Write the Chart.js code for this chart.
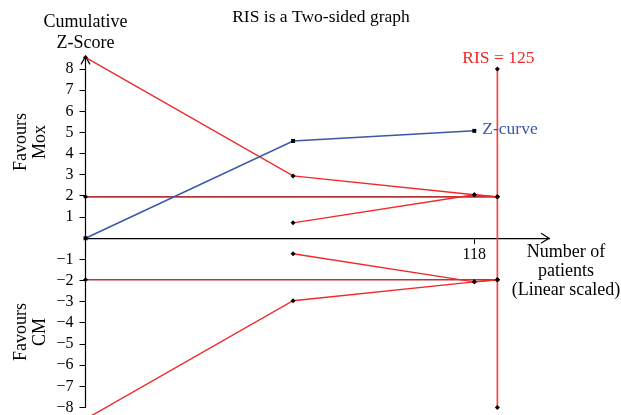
<!DOCTYPE html>
<html>
<head>
<meta charset="utf-8">
<script src="https://cdn.jsdelivr.net/npm/chart.js@4/dist/chart.umd.min.js"></script>
<style>
  html, body { margin: 0; padding: 0; background: #fff; }
  #wrap { width: 621px; height: 415px; position: relative; }
</style>
</head>
<body>
<div id="wrap"><canvas id="c" width="621" height="415"></canvas></div>
<script>
// Trial sequential analysis: cumulative Z-score against number of patients
const zPatients = [0, 63, 118];
const zCurve = [0, 4.6, 5.08];

const boundaryPatients = [0, 63, 118, 125];
const upperBoundary = [8.55, 2.95, 2.06, 1.96];
const lowerBoundary = [-8.55, -2.95, -2.06, -1.96];

const futilityPatients = [63, 118, 125];
const upperFutility = [0.73, 2.06, 1.96];
const lowerFutility = [-0.73, -2.06, -1.96];

const conventionalPatients = [0, 125];
const conventionalZ = [1.96, -1.96];

const risPatients = 125;
const risLimits = [8, -8];

const yTickValues = [8, 7, 6, 5, 4, 3, 2, 1, -1, -2, -3, -4, -5, -6, -7, -8];
const xTickValues = [118];

const RED = '#f02a2a';
const DARK_RED = '#b8363a';
const BLUE = '#3b57a8';
const SERIF = '"Liberation Serif", "Times New Roman", serif';

const pts = (xs, ys) => xs.map((x, i) => ({ x, y: ys[i] }));

function lineSet(data, color, width, style) {
  return {
    data,
    showLine: true,
    borderColor: color,
    borderWidth: width,
    pointRadius: style === 'rect' ? 2.8 : 2.5,
    pointStyle: style || 'rectRot',
    pointBackgroundColor: '#000',
    pointBorderColor: '#000',
    pointBorderWidth: 0,
    clip: false,
    tension: 0
  };
}

const datasets = [
  Object.assign(lineSet(pts(zPatients, zCurve), BLUE, 1.5, 'rect'), { order: 0 }),
  Object.assign(lineSet(pts(boundaryPatients, upperBoundary), RED, 1.4), { order: 1 }),
  Object.assign(lineSet(pts(boundaryPatients, lowerBoundary), RED, 1.4), { order: 1 }),
  Object.assign(lineSet(pts(futilityPatients, upperFutility), RED, 1.4), { order: 1 }),
  Object.assign(lineSet(pts(futilityPatients, lowerFutility), RED, 1.4), { order: 1 }),
  Object.assign(lineSet(pts(conventionalPatients, [conventionalZ[0], conventionalZ[0]]), DARK_RED, 1.6), { order: 3 }),
  Object.assign(lineSet(pts(conventionalPatients, [conventionalZ[1], conventionalZ[1]]), DARK_RED, 1.6), { order: 3 }),
  Object.assign(lineSet(pts([risPatients, risPatients], risLimits), '#f24848', 1.7), { order: 2 })
];

// Axis lines with arrow heads and the free-standing labels
const decorations = {
  id: 'decorations',
  beforeDatasetsDraw(chart) {
    const { ctx, chartArea, scales: { x, y } } = chart;
    const x0 = x.getPixelForValue(0);
    const yBottom = y.getPixelForValue(-8);
    ctx.save();
    ctx.strokeStyle = '#000';
    ctx.lineWidth = 1.2;
    ctx.beginPath();
    ctx.moveTo(x0, yBottom + 0.5);
    ctx.lineTo(x0, chartArea.top);
    ctx.stroke();
    // y arrow head
    ctx.beginPath();
    ctx.moveTo(x0 - 4.5, chartArea.top + 8);
    ctx.lineTo(x0, chartArea.top);
    ctx.lineTo(x0 + 4.5, chartArea.top + 8);
    ctx.stroke();
    // x arrow head
    const yAxis = y.getPixelForValue(0);
    ctx.beginPath();
    ctx.moveTo(chartArea.right - 8, yAxis - 5);
    ctx.lineTo(chartArea.right, yAxis);
    ctx.lineTo(chartArea.right - 8, yAxis + 5);
    ctx.stroke();
    ctx.restore();
  },
  afterDraw(chart) {
    const { ctx, chartArea, scales: { x, y } } = chart;
    const x0 = x.getPixelForValue(0);
    const yAxis = y.getPixelForValue(0);
    ctx.save();
    ctx.textBaseline = 'alphabetic';

    ctx.fillStyle = '#000';
    ctx.font = '17.5px ' + SERIF;
    ctx.textAlign = 'center';
    ctx.fillText('RIS is a Two-sided graph', 321, 22);

    ctx.font = '18px ' + SERIF;
    ctx.fillText('Cumulative', x0, 26.5);
    ctx.fillText('Z-Score', x0, 48.3);

    // axis caption for patients
    const cx = chartArea.right + 17;
    ctx.fillText('Number of', cx, yAxis + 19);
    ctx.fillText('patients', cx, yAxis + 37.7);
    ctx.fillText('(Linear scaled)', cx, yAxis + 56.7);

    // rotated side captions
    const side = (cy, lines) => {
      ctx.save();
      ctx.translate(26, cy);
      ctx.rotate(-Math.PI / 2);
      ctx.textAlign = 'center';
      ctx.fillText(lines[0], 0, 0);
      ctx.fillText(lines[1], 0, 18.5);
      ctx.restore();
    };
    side(142, ['Favours', 'Mox']);
    side(332, ['Favours', 'CM']);

    // RIS label
    const rx = x.getPixelForValue(risPatients);
    ctx.fillStyle = '#ee2a2a';
    ctx.textAlign = 'center';
    ctx.font = '17.5px ' + SERIF;
    ctx.fillText('RIS = ' + risPatients, rx + 1, y.getPixelForValue(risLimits[0]) - 6);

    // Z-curve label
    const last = zPatients.length - 1;
    ctx.fillStyle = BLUE;
    ctx.textAlign = 'left';
    ctx.fillText('Z-curve', x.getPixelForValue(zPatients[last]) + 8, y.getPixelForValue(zCurve[last]) + 3);
    ctx.restore();
  }
};

new Chart(document.getElementById('c'), {
  type: 'scatter',
  data: { datasets },
  plugins: [decorations],
  options: {
    responsive: false,
    animation: false,
    devicePixelRatio: 1,
    layout: { autoPadding: false, padding: { left: 45.5, right: 72, top: 56.4, bottom: 0 } },
    plugins: { legend: { display: false }, tooltip: { enabled: false } },
    scales: {
      x: {
        type: 'linear',
        min: 0,
        max: 140.67,
        position: { y: 0 },
        afterBuildTicks(s) { s.ticks = xTickValues.map(v => ({ value: v })); },
        afterFit(s) { s.height = 0; s.paddingLeft = 0; s.paddingRight = 0; s.paddingTop = 0; s.paddingBottom = 0; },
        grid: { drawOnChartArea: false, drawTicks: true, tickLength: 5, color: '#000', lineWidth: 1 },
        border: { display: true, color: '#000', width: 1.2 },
        ticks: { color: '#000', font: { family: SERIF, size: 16 }, padding: 2, maxRotation: 0, autoSkip: false }
      },
      y: {
        type: 'linear',
        min: -8.355,
        max: 8.6,
        position: 'left',
        afterBuildTicks(s) { s.ticks = yTickValues.map(v => ({ value: v })); },
        afterFit(s) { s.width = 40; s.paddingTop = 0; s.paddingBottom = 0; s.paddingLeft = 0; s.paddingRight = 0; },
        grid: { drawOnChartArea: false, drawTicks: true, tickLength: 6, color: '#000', lineWidth: 1 },
        border: { display: false },
        ticks: {
          color: '#000',
          font: { family: SERIF, size: 16 },
          padding: 6,
          autoSkip: false,
          callback: v => (v < 0 ? '\u2212' + Math.abs(v) : String(v))
        }
      }
    }
  }
});
</script>
</body>
</html>
